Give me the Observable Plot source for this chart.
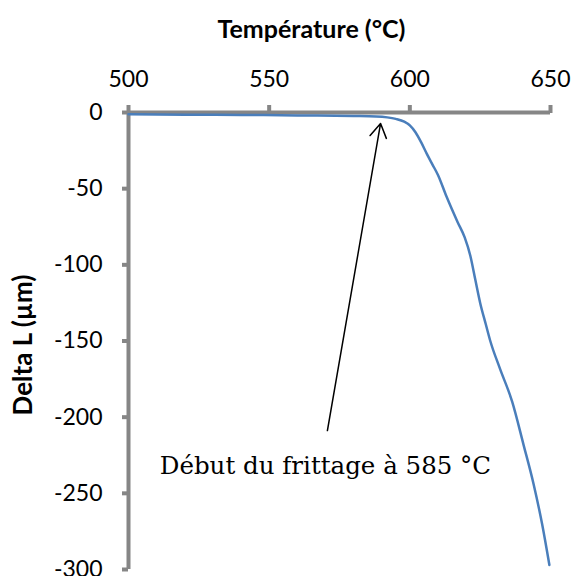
<!DOCTYPE html>
<html>
<head>
<meta charset="utf-8">
<script src="https://cdn.jsdelivr.net/npm/d3@7"></script>
<script src="https://cdn.jsdelivr.net/npm/@observablehq/plot@0.6"></script>
<style>
  html, body { margin: 0; padding: 0; background: #fff; }
  #chart svg { display: block; }
</style>
</head>
<body>
<div id="chart"></div>
<script>
// Data
const temperature = [500, 520, 540, 560, 580, 588, 592, 595, 598, 600, 602, 604, 606, 608, 610, 613, 617, 619.5, 621.5, 623.3, 625, 627, 628.6, 632, 636.4, 640.4, 644, 647, 649.6];
const deltaL = [-1.2, -1.4, -1.6, -1.9, -2.3, -2.6, -3.2, -4.2, -6, -8.5, -13, -19.5, -27, -34, -41, -55, -72, -82, -94, -110, -125, -139, -150, -168, -190, -218, -244, -270, -297];
const xTicks = [500, 550, 600, 650];
const yTicks = [0, -50, -100, -150, -200, -250, -300];
const xDomain = [500, 650];
const yDomain = [-300, 0];
const xTitle = "Température (°C)";
const yTitle = "Delta L (µm)";
const noteText = "Début du frittage à 585 °C";
const noteX = [570];
const noteY = [-232];
const arrowFrom = {x: 570.7, y: -208.8};
const arrowTo = {x: 589.6, y: -7.2};

const rows = temperature.map((t, i) => ({t, d: deltaL[i]}));
const grey = "#868686";
const sans = "Lato, 'Open Sans', sans-serif";

const chart = Plot.plot({
  width: 574,
  height: 576,
  marginLeft: 128,
  marginRight: 24,
  marginTop: 112,
  marginBottom: 7,
  style: {background: "#fff", overflow: "visible"},
  x: {domain: xDomain},
  y: {domain: yDomain},
  marks: [
    Plot.axisX({anchor: "top", ticks: xTicks, tickSize: 8, tickPadding: 18, stroke: grey, strokeWidth: 4, fill: "black", fontSize: 23, fontFamily: sans, tickFormat: d => String(d), label: null}),
    Plot.axisY({anchor: "left", ticks: yTicks, tickSize: 6, tickPadding: 20, stroke: grey, strokeWidth: 4, fill: "black", fontSize: 23, fontFamily: sans, tickFormat: d => String(d), label: null}),
    Plot.ruleY([yDomain[1]], {stroke: grey, strokeWidth: 4}),
    Plot.ruleX([xDomain[0]], {stroke: grey, strokeWidth: 4}),
    Plot.line(rows, {x: "t", y: "d", stroke: "#4a7ebb", strokeWidth: 2.5, curve: "monotone-x"}),
    Plot.arrow([0], {x1: () => arrowFrom.x, y1: () => arrowFrom.y, x2: () => arrowTo.x, y2: () => arrowTo.y, stroke: "black", strokeWidth: 1.5, headLength: 16, headAngle: 62}),
    Plot.text(noteX, {x: d => d, y: (d, i) => noteY[i], text: () => noteText, fontFamily: "'DejaVu Serif', 'Liberation Serif', serif", fontSize: 24.5, fill: "black", textAnchor: "middle", lineAnchor: "middle"}),
    Plot.text([xTitle], {frameAnchor: "top", text: d => d, dx: -28, dy: -75, lineAnchor: "bottom", fontFamily: sans, fontWeight: "bold", fontSize: 25, fill: "black"}),
    Plot.text([yTitle], {frameAnchor: "left", text: d => d, dx: -105, dy: 4, rotate: -90, textAnchor: "middle", lineAnchor: "middle", fontFamily: sans, fontWeight: "bold", fontSize: 26, fill: "black"})
  ]
});
document.getElementById("chart").appendChild(chart);
</script>
</body>
</html>
